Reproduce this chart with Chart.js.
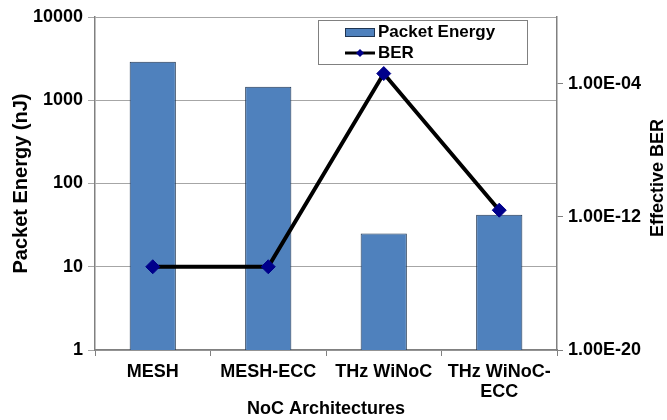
<!DOCTYPE html>
<html>
<head>
<meta charset="utf-8">
<script src="https://cdn.jsdelivr.net/npm/chart.js@4.4.1/dist/chart.umd.min.js"></script>
<style>
  html, body { margin: 0; padding: 0; background: #fff; }
  #wrap { width: 667px; height: 420px; }
</style>
</head>
<body>
<div id="wrap"><canvas id="noc"></canvas></div>
<script>
const categories = ['MESH', 'MESH-ECC', 'THz WiNoC', ['THz WiNoC-', 'ECC']];
const packetEnergy = [2900, 1450, 25, 42];
const effectiveBer = [1e-15, 1e-15, 4e-4, 2.5e-12];
const energyTicks = [1, 10, 100, 1000, 10000];
const berTicks = [1e-20, 1e-12, 1e-4];

const FONT = '"Liberation Sans", Arial, sans-serif';
const BAR_BLUE = '#4F81BD';
const AXIS_GREY = '#808080';

function berLabel(v) {
    const e = Math.round(Math.log10(v));
    const m = v / Math.pow(10, e);
    const sign = e < 0 ? '-' : '+';
    return m.toFixed(2) + 'E' + sign + String(Math.abs(e)).padStart(2, '0');
}

// legend box inside the plot + right title that reads bottom-to-top
const extras = {
    id: 'extras',
    afterDraw(chart) {
        const ctx = chart.ctx;
        const ds = chart.data.datasets;
        ctx.save();
        // legend
        ctx.fillStyle = '#fff';
        ctx.fillRect(318, 20, 209, 44);
        ctx.strokeStyle = AXIS_GREY;
        ctx.lineWidth = 1;
        ctx.strokeRect(318.5, 20.5, 209, 44);

        ctx.fillStyle = ds[0].backgroundColor;
        ctx.fillRect(345, 28, 29, 8);
        ctx.strokeStyle = ds[0].borderColor;
        ctx.strokeRect(345.5, 28.5, 29, 8);

        ctx.strokeStyle = ds[1].borderColor;
        ctx.lineWidth = 3;
        ctx.beginPath();
        ctx.moveTo(345, 53);
        ctx.lineTo(375, 53);
        ctx.stroke();
        ctx.fillStyle = ds[1].pointBackgroundColor;
        ctx.beginPath();
        ctx.moveTo(360, 49); ctx.lineTo(364, 53); ctx.lineTo(360, 57); ctx.lineTo(356, 53);
        ctx.closePath();
        ctx.fill();

        ctx.fillStyle = '#000';
        ctx.font = 'bold 17px ' + FONT;
        ctx.textBaseline = 'middle';
        ctx.textAlign = 'left';
        ctx.fillText(ds[0].label, 378, 32);
        ctx.fillText(ds[1].label, 378, 53);

        // right axis title
        ctx.translate(658, 178);
        ctx.rotate(-Math.PI / 2);
        ctx.textAlign = 'center';
        ctx.font = 'bold 18px ' + FONT;
        ctx.fillText('Effective BER', 0, 0);
        ctx.restore();
    }
};

new Chart(document.getElementById('noc'), {
    type: 'bar',
    data: {
        labels: categories,
        datasets: [{
            label: 'Packet Energy',
            data: packetEnergy,
            yAxisID: 'y',
            backgroundColor: BAR_BLUE,
            borderColor: '#1F3552',
            borderWidth: 1,
            barPercentage: 0.4,
            categoryPercentage: 1,
            order: 1
        }, {
            type: 'line',
            label: 'BER',
            data: effectiveBer,
            yAxisID: 'y1',
            borderColor: '#000',
            borderWidth: 4,
            tension: 0,
            pointStyle: 'rectRot',
            pointRadius: 7,
            pointBackgroundColor: '#00008B',
            pointBorderColor: '#00008B',
            pointBorderWidth: 1,
            order: 0
        }]
    },
    options: {
        responsive: true,
        maintainAspectRatio: false,
        animation: false,
        layout: { padding: { top: 17, left: 0, right: 0, bottom: 0 } },
        plugins: {
            legend: { display: false },
            tooltip: { enabled: false }
        },
        scales: {
            x: {
                grid: { offset: true, drawOnChartArea: false, tickLength: 6, color: AXIS_GREY },
                border: { color: AXIS_GREY, width: 1.5 },
                ticks: {
                    autoSkip: false, maxRotation: 0, padding: 6, color: '#000',
                    font: { family: FONT, size: 18, weight: 'bold', lineHeight: 1.1 }
                },
                title: {
                    display: true, text: 'NoC Architectures', color: '#000',
                    font: { family: FONT, size: 18, weight: 'bold', lineHeight: 1.2 },
                    padding: { top: 0, bottom: 0 }
                },
                afterFit(scale) { scale.height = 70; }
            },
            y: {
                type: 'logarithmic',
                position: 'left',
                min: 1,
                max: 10000,
                grid: { color: '#A6A6A6', tickLength: 7, lineWidth: 1 },
                border: { color: AXIS_GREY, width: 1.5 },
                afterBuildTicks(scale) { scale.ticks = energyTicks.map(v => ({ value: v })); },
                ticks: {
                    padding: 5, color: '#000',
                    font: { family: FONT, size: 18, weight: 'bold' },
                    callback: v => String(v)
                },
                title: {
                    display: true, text: 'Packet Energy (nJ)', color: '#000',
                    font: { family: FONT, size: 20, weight: 'bold', lineHeight: 1.2 },
                    padding: { top: 9, bottom: 0 }
                },
                afterFit(scale) { scale.width = 95; }
            },
            y1: {
                type: 'logarithmic',
                position: 'right',
                min: 1e-20,
                max: 1,
                grid: { drawOnChartArea: false, tickLength: 6, color: AXIS_GREY },
                border: { color: AXIS_GREY, width: 1.5 },
                afterBuildTicks(scale) { scale.ticks = berTicks.map(v => ({ value: v })); },
                ticks: {
                    padding: 5, color: '#000',
                    font: { family: FONT, size: 18, weight: 'bold' },
                    callback: v => berLabel(v)
                },
                afterFit(scale) { scale.width = 110; }
            }
        }
    },
    plugins: [extras]
});
</script>
</body>
</html>
